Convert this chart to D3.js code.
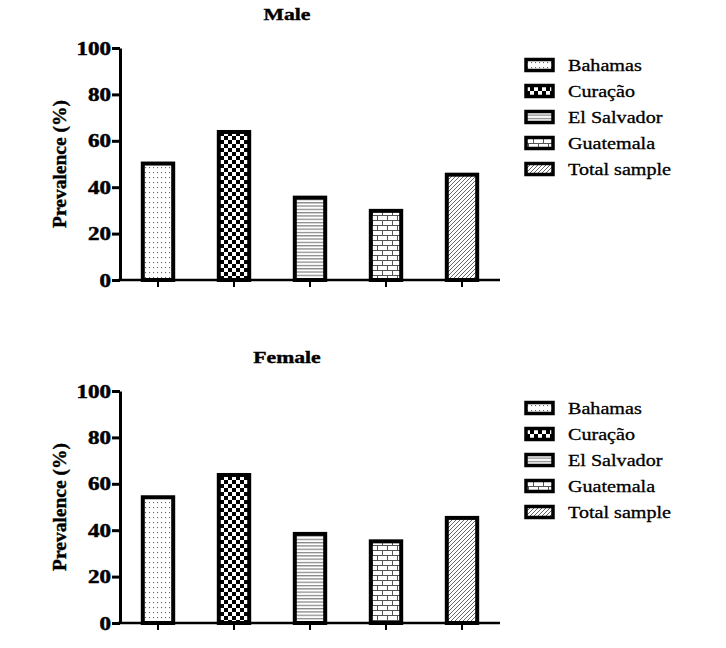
<!DOCTYPE html>
<html>
<head>
<meta charset="utf-8">
<style>
  body { margin: 0; background: #fff; }
</style>
</head>
<body>
<script src="https://cdn.jsdelivr.net/npm/d3@7/dist/d3.min.js"></script>
<script>
var countries = ['Bahamas', 'Cura\u00e7\u00e3o', 'El Salvador', 'Guatemala', 'Total sample'];
var maleValues = [50.2, 63.8, 35.5, 29.8, 45.4];
var femaleValues = [54.2, 63.8, 38.4, 35.2, 45.3];
var yTicks = [0, 20, 40, 60, 80, 100];
var patternIds = ['dots', 'checks', 'hlines', 'bricks', 'diag'];

var width = 726, height = 648;
var serif = '"Liberation Serif", "Times New Roman", serif';
var svg = d3.select('body').append('svg')
    .attr('width', width).attr('height', height);

// fill patterns
var defs = svg.append('defs');
var p;
p = defs.append('pattern').attr('id', 'dots').attr('patternUnits', 'userSpaceOnUse')
    .attr('width', 4).attr('height', 5);
p.append('rect').attr('width', 4).attr('height', 5).attr('fill', '#fff');
p.append('rect').attr('x', 1).attr('y', 2).attr('width', 1.1).attr('height', 1.1).attr('fill', '#666');

p = defs.append('pattern').attr('id', 'checks').attr('patternUnits', 'userSpaceOnUse')
    .attr('width', 8).attr('height', 8);
p.append('rect').attr('width', 8).attr('height', 8).attr('fill', '#fff');
p.append('rect').attr('width', 4).attr('height', 4).attr('fill', '#000');
p.append('rect').attr('x', 4).attr('y', 4).attr('width', 4).attr('height', 4).attr('fill', '#000');

p = defs.append('pattern').attr('id', 'hlines').attr('patternUnits', 'userSpaceOnUse')
    .attr('width', 4).attr('height', 3.3);
p.append('rect').attr('width', 4).attr('height', 3.3).attr('fill', '#fff');
p.append('rect').attr('y', 1).attr('width', 4).attr('height', 1).attr('fill', '#666');

p = defs.append('pattern').attr('id', 'bricks').attr('patternUnits', 'userSpaceOnUse')
    .attr('width', 10).attr('height', 10);
p.append('rect').attr('width', 10).attr('height', 10).attr('fill', '#fff');
p.append('path').attr('d', 'M0,0.5H10M0,5.5H10M2.5,0V5M7.5,5V10')
    .attr('stroke', '#555').attr('stroke-width', 1).attr('fill', 'none');

p = defs.append('pattern').attr('id', 'diag').attr('patternUnits', 'userSpaceOnUse')
    .attr('width', 4).attr('height', 4);
p.append('rect').attr('width', 4).attr('height', 4).attr('fill', '#fff');
p.append('path').attr('d', 'M-1,1L1,-1M0,4L4,0M3,5L5,3')
    .attr('stroke', '#555').attr('stroke-width', 0.9);

// text in the source is horizontally stretched
function stretchText(sel, x, y, sx) {
    return sel.attr('transform', 'translate(' + x + ',' + y + ') scale(' + sx + ',1)')
        .attr('font-family', serif).attr('fill', '#000');
}

function drawPanel(title, values, top) {
    var x = d3.scaleBand().domain(countries).range([120, 500])
        .paddingInner(0.6).paddingOuter(0.3);
    var y = d3.scaleLinear().domain([0, 100]).range([top + 232, top]);
    var g = svg.append('g');

    stretchText(g.append('text'), 287, top - 28, 1.24)
        .attr('text-anchor', 'middle').attr('font-size', 17.5)
        .attr('font-weight', 'bold').attr('stroke', '#000').attr('stroke-width', 0.4)
        .text(title);

    g.selectAll('rect.bar').data(values).enter().append('rect')
        .attr('class', 'bar')
        .attr('x', function (d, i) { return x(countries[i]); })
        .attr('y', function (d) { return y(d); })
        .attr('width', x.bandwidth())
        .attr('height', function (d) { return y(0) - y(d); })
        .attr('fill', function (d, i) { return 'url(#' + patternIds[i] + ')'; })
        .attr('stroke', '#000').attr('stroke-width', 4);

    var xAxis = g.append('g').attr('transform', 'translate(0,' + y(0) + ')')
        .call(d3.axisBottom(x).tickSize(7).tickSizeOuter(0).tickFormat(''));
    xAxis.select('.domain').attr('stroke-width', 2.5).attr('d', 'M118,0H500');
    xAxis.selectAll('.tick line').attr('stroke-width', 2);

    var yAxis = g.append('g').attr('transform', 'translate(120,0)')
        .call(d3.axisLeft(y).tickValues(yTicks).tickSize(8).tickSizeOuter(0).tickPadding(1));
    yAxis.select('.domain').attr('stroke-width', 3);
    yAxis.selectAll('.tick line').attr('stroke-width', 3);
    yAxis.selectAll('.tick text').each(function () {
        var t = d3.select(this);
        t.attr('font-size', 18).attr('font-weight', 'bold')
            .attr('stroke', '#000').attr('stroke-width', 0.5)
            .attr('x', null).attr('dy', '0.34em');
        stretchText(t, -9, 0, 1.28);
    });

    g.append('text')
        .attr('transform', 'translate(66,' + y(50) + ') rotate(-90)')
        .attr('text-anchor', 'middle').attr('font-size', 19.5)
        .attr('font-family', serif).attr('font-weight', 'bold')
        .attr('stroke', '#000').attr('stroke-width', 0.4)
        .text('Prevalence (%)');

    // legend
    var leg = g.selectAll('g.leg').data(countries).enter().append('g')
        .attr('class', 'leg')
        .attr('transform', function (d, i) { return 'translate(526,' + (top + 17 + i * 26) + ')'; });
    leg.append('rect').attr('x', 0).attr('y', -5.5).attr('width', 27).attr('height', 11)
        .attr('fill', function (d, i) { return 'url(#' + patternIds[i] + ')'; })
        .attr('stroke', '#000').attr('stroke-width', 3.5);
    leg.each(function (d) {
        stretchText(d3.select(this).append('text'), 42, 6, 1.22)
            .attr('font-size', 16.5).attr('stroke', '#000').attr('stroke-width', 0.3)
            .text(d);
    });
}

drawPanel('Male', maleValues, 48);
drawPanel('Female', femaleValues, 391);
</script>
</body>
</html>
